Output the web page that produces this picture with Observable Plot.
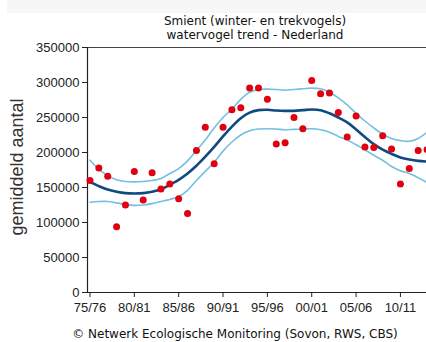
<!DOCTYPE html>
<html>
<head>
<meta charset="utf-8">
<script src="https://cdn.jsdelivr.net/npm/d3@7"></script>
<script src="https://cdn.jsdelivr.net/npm/@observablehq/plot@0.6"></script>
<style>
  html, body { margin: 0; padding: 0; background: #fff; overflow: hidden; }
  #wrap { position: relative; width: 426px; height: 342px; overflow: hidden; background: #fff; }
  #band { position: absolute; left: 7px; top: 0; width: 419px; height: 13px; background: #f7f7f7; }
  #title { position: absolute; left: 0; top: 14px; width: 510px; text-align: center;
           font: 12px "DejaVu Sans", sans-serif; line-height: 14.4px; color: #111; }
  #caption { position: absolute; left: 0; top: 327px; width: 470px; text-align: center;
           font: 12px "DejaVu Sans", sans-serif; line-height: 15px; color: #111; }
  #ylabel { position: absolute; left: 17px; top: 167px; transform: translate(-50%, -50%) rotate(-90deg);
           white-space: nowrap; font: 18px "Liberation Sans", Arial, sans-serif; color: #333; }
  #chart { position: absolute; left: 0; top: 0; }
</style>
</head>
<body>
<div id="wrap">
  <div id="band"></div>
  <div id="chart"></div>
  <div id="title">Smient (winter- en trekvogels)<br>watervogel trend - Nederland</div>
  <div id="ylabel">gemiddeld aantal</div>
  <div id="caption">© Netwerk Ecologische Monitoring (Sovon, RWS, CBS)</div>
</div>
<script>
// season start years (75/76 = 1975)
const seasons = [1975,1976,1977,1978,1979,1980,1981,1982,1983,1984,1985,1986,1987,1988,1989,
  1990,1991,1992,1993,1994,1995,1996,1997,1998,1999,2000,2001,2002,2003,2004,2005,2006,2007,
  2008,2009,2010,2011,2012,2013];
// observed mean counts (red points)
const counts = [160000,178000,166000,94000,125000,173000,132000,171000,148000,155000,134000,113000,
  203000,236000,184000,236000,261000,264000,292000,292000,276000,212000,214000,250000,234000,
  303000,284000,285000,257000,222000,252000,208000,207000,224000,205000,155000,177000,203000,204000];
// smoothed trend
const trend = [158000,152000,147000,144000,142000,141500,142000,144000,147500,154000,161000,170000,
  181000,194000,208000,223000,237000,249000,257000,260500,261000,260000,259500,259500,260500,
  261500,260500,256000,250000,243000,233000,222000,212000,204000,198000,193000,190000,188000,187000];
// upper confidence limit
const upper = [189000,176000,167000,161000,158500,158000,158500,160000,163000,170000,177000,188000,
  203000,218000,235000,250000,262000,276000,286000,290000,290500,290000,289000,290000,291000,
  292000,291000,286000,278000,268000,256000,245000,235000,226000,220000,217000,216000,220000,229000];
// lower confidence limit
const lower = [129000,130000,130000,128000,125500,124500,125000,127000,130000,133000,137000,146000,
  160000,173000,186000,202000,215000,225000,231000,233500,234000,233500,232500,233000,233500,
  234000,232500,229000,223000,218000,211000,204000,196000,189000,180000,174000,170000,164000,157000];
// x tick positions and labels
const tickYears = [1975,1980,1985,1990,1995,2000,2005,2010];
const tickLabels = ["75/76","80/81","85/86","90/91","95/96","00/01","05/06","10/11"];
const yTicks = [0,50000,100000,150000,200000,250000,300000,350000];

const rows = seasons.map((s, i) => ({s, count: counts[i], trend: trend[i], upper: upper[i], lower: lower[i]}));
const xDomain = [1974.72, 2012.94];

const chart = Plot.plot({
  width: 426,
  height: 342,
  marginLeft: 87,
  marginRight: 0,
  marginTop: 47,
  marginBottom: 50,
  style: {fontFamily: '"Liberation Sans", Arial, sans-serif', fontSize: "13px", color: "#222", background: "transparent", overflow: "visible"},
  x: {domain: xDomain},
  y: {domain: [0, 350000]},
  marks: [
    Plot.axisX({ticks: tickYears, tickFormat: d => tickLabels[tickYears.indexOf(d)], tickSize: 5, tickPadding: 5, label: null, fontSize: 13, stroke: "#222"}),
    Plot.axisY({ticks: yTicks, tickFormat: d => String(d), tickSize: 5, tickPadding: 3, label: null, fontSize: 13, stroke: "#222"}),
    Plot.ruleY([0], {stroke: "#222", strokeWidth: 1.2}),
    Plot.ruleY([350000], {stroke: "#444", strokeWidth: 1}),
    Plot.ruleX([xDomain[0]], {stroke: "#222", strokeWidth: 1.2}),
    Plot.line(rows, {x: "s", y: "upper", stroke: "#72c0e2", strokeWidth: 1.6, curve: "catmull-rom"}),
    Plot.line(rows, {x: "s", y: "lower", stroke: "#72c0e2", strokeWidth: 1.6, curve: "catmull-rom"}),
    Plot.line(rows, {x: "s", y: "trend", stroke: "#0f4a80", strokeWidth: 2.6, curve: "catmull-rom"}),
    Plot.dot(rows, {x: "s", y: "count", r: 3.5, fill: "#e1000f", stroke: "none"})
  ]
});
document.getElementById("chart").appendChild(chart);
</script>
</body>
</html>
